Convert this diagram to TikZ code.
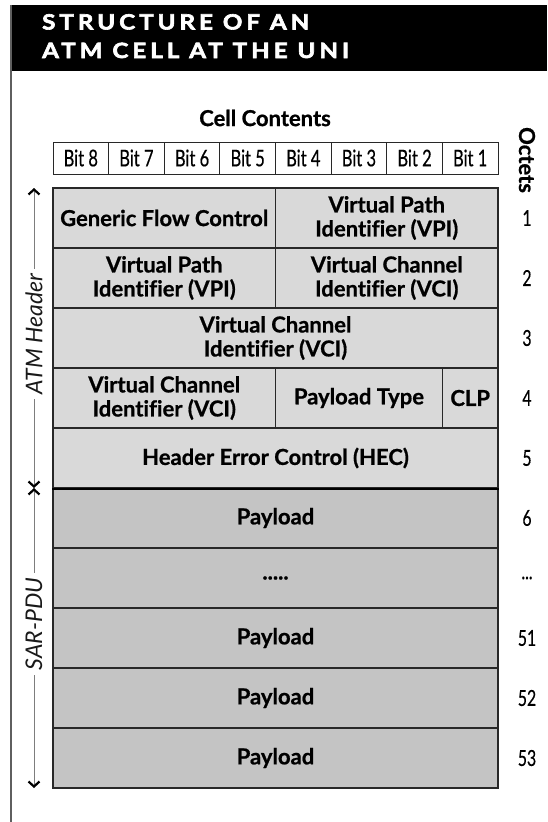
\documentclass[tikz,border=0pt]{standalone}
\usepackage{fontspec}
\setmainfont{Lato}
\newfontfamily\condfont[FakeStretch=0.72,FakeBold=0.4]{Lato}
\newfontfamily\boldfam[FakeBold=0.8,Ligatures=NoCommon]{Lato}
\newfontfamily\titlefont[LetterSpace=19,FakeStretch=1.15,FakeBold=3]{Lato}
\usetikzlibrary{arrows.meta}
\definecolor{tline}{RGB}{40,40,40}
\definecolor{hdrfill}{RGB}{217,217,217}
\definecolor{payfill}{RGB}{196,196,196}
\definecolor{labtext}{RGB}{25,25,25}
\definecolor{shaft}{RGB}{125,125,125}
\definecolor{frame}{RGB}{95,95,95}
\newcommand{\cellfnt}{\boldfam\bfseries\fontsize{22}{24}\selectfont}
\begin{document}
\begin{tikzpicture}[x=1pt,y=-1pt,
  cellbox/.style={draw=tline, line width=1.2pt, inner sep=0pt, align=center, font=\cellfnt, minimum height=60pt},
  hdrcell/.style={cellbox, fill=hdrfill},
  paycell/.style={cellbox, fill=payfill, minimum width=445pt},
  bitbox/.style={draw=tline, line width=1pt, fill=white, minimum width=55.625pt, minimum height=32pt, inner sep=0pt, font=\condfont\fontsize{23}{25}\selectfont},
  octnum/.style={font=\condfont\fontsize{22}{24}\selectfont, inner sep=0pt},
  sidelab/.style={font=\itshape\fontsize{23}{25}\selectfont, text=labtext, rotate=90, inner xsep=5pt, inner ysep=1pt},
  spanarrow/.style={draw=shaft, line width=1pt, -{Straight Barb[length=5pt,width=11pt,line width=2.2pt,color=black]}},
  titletext/.style={anchor=base west, text=white, inner sep=0pt, font=\titlefont\bfseries\fontsize{21}{24}\selectfont}
]
\useasboundingbox (0,0) rectangle (547,822);
% frame and title band
\fill[black] (11,5) rectangle (547,71);
\draw[frame, line width=2pt] (11,5) -- (11,822);
\node[titletext] (title1) at (42,29.5) {STRUCTURE OF AN};
\node[titletext] (title2) at (42,58) {ATM CELL AT THE UNI};
% column heading
\node[font=\cellfnt] (cc) at (265,118) {Cell Contents};
\node[font=\boldfam\bfseries\fontsize{22}{24}\selectfont, rotate=-90] (oct) at (527,160) {Octets};
% bit row
\foreach \b [count=\k from 0] in {8,7,6,5,4,3,2,1}
  \node[bitbox] (bit\b) at ({53+55.625*(\k+0.5)},158) {Bit \b};
% header rows
\node[hdrcell, minimum width=222.5pt] (gfc) at (164.25,218) {Generic Flow Control};
\node[hdrcell, minimum width=222.5pt] (vpia) at (386.75,218) {Virtual Path\\Identifier (VPI)};
\node[hdrcell, minimum width=222.5pt] (vpib) at (164.25,278) {Virtual Path\\Identifier (VPI)};
\node[hdrcell, minimum width=222.5pt] (vcia) at (386.75,278) {Virtual Channel\\Identifier (VCI)};
\node[hdrcell, minimum width=445pt] (vcib) at (275.5,338) {Virtual Channel\\Identifier (VCI)};
\node[hdrcell, minimum width=222.5pt] (vcic) at (164.25,398) {Virtual Channel\\Identifier (VCI)};
\node[hdrcell, minimum width=166.875pt] (pt) at (358.9375,398) {Payload Type};
\node[hdrcell, minimum width=55.625pt] (clp) at (470.1875,398) {CLP};
\node[hdrcell, minimum width=445pt] (hec) at (275.5,458) {Header Error Control (HEC)};
% payload rows
\node[paycell] (p6) at (275.5,518) {Payload};
\node[paycell] (pdots) at (275.5,578) {.....};
\node[paycell] (p51) at (275.5,638) {Payload};
\node[paycell] (p52) at (275.5,698) {Payload};
\node[paycell] (p53) at (275.5,758) {Payload};
\draw[black, line width=2pt] (hec.south west) -- (hec.south east);
% octet numbers
\node[octnum] (o1) at (527,218) {1};
\node[octnum] (o2) at (527,278) {2};
\node[octnum] (o3) at (527,338) {3};
\node[octnum] (o4) at (527,398) {4};
\node[octnum] (o5) at (527,458) {5};
\node[octnum] (o6) at (527,518) {6};
\node[octnum] (o7) at (527,578) {...};
\node[octnum] (o51) at (527,638) {51};
\node[octnum] (o52) at (527,698) {52};
\node[octnum] (o53) at (527,758) {53};
% side spans
\coordinate (atop) at (34,188);
\coordinate (amid) at (34,488);
\coordinate (abot) at (34,788);
\node[sidelab] (atm) at (34,334) {ATM Header};
\node[sidelab] (sar) at (34,624) {SAR-PDU};
\draw[spanarrow] (atm) -- (atop);
\draw[spanarrow] (atm) -- (amid);
\draw[spanarrow] (sar) -- (amid);
\draw[spanarrow] (sar) -- (abot);
\end{tikzpicture}
\end{document}
